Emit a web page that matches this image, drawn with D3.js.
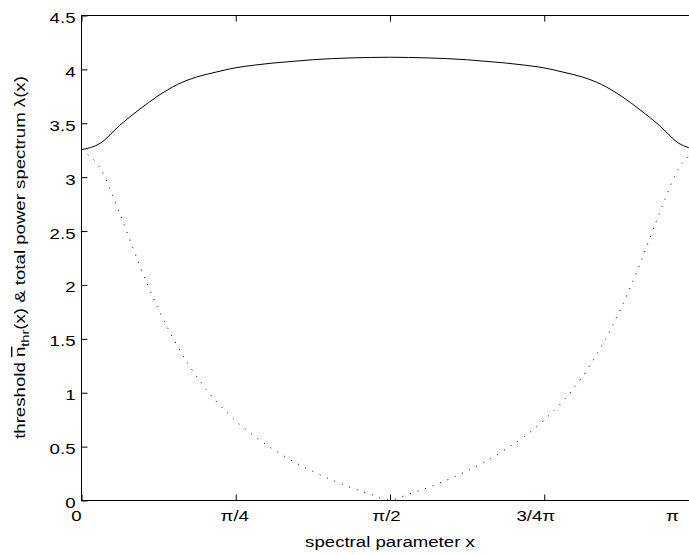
<!DOCTYPE html>
<html>
<head>
<meta charset="utf-8">
<script src="https://cdn.jsdelivr.net/npm/d3@7"></script>
<style>
  html, body { margin: 0; padding: 0; background: #fff; }
  svg { display: block; }
  text { font-family: "Liberation Sans", Arial, Helvetica, sans-serif; fill: #000; }
</style>
</head>
<body>
<svg id="chart" width="689" height="555"></svg>
<script>
// ---- data (x in multiples of pi/32, 0..pi) ----
const xSteps = d3.range(0, 33);            // k = 0..32, x = k*pi/32
const powerSpectrum = [
  3.25, 3.31, 3.475, 3.62, 3.75, 3.855, 3.925, 3.97, 4.01, 4.035, 4.055, 4.07, 4.085, 4.095, 4.102, 4.106,
  4.108,
  4.106, 4.102, 4.095, 4.085, 4.07, 4.055, 4.035, 4.01, 3.97, 3.925, 3.855, 3.75, 3.62, 3.475, 3.31, 3.25
];
const threshold = [
  3.247, 3.076, 2.661, 2.196, 1.776, 1.429, 1.144, 0.918, 0.739, 0.590, 0.468, 0.359, 0.267, 0.187, 0.115, 0.054,
  0.0,
  0.054, 0.115, 0.187, 0.267, 0.359, 0.468, 0.590, 0.739, 0.918, 1.144, 1.429, 1.776, 2.196, 2.661, 3.076, 3.247
];
const xTickValues = [0, Math.PI / 4, Math.PI / 2, 3 * Math.PI / 4, Math.PI];
const xTickLabels = ["0", "\u03C0/4", "\u03C0/2", "3/4\u03C0", "\u03C0"];
const yTickValues = [0, 0.5, 1, 1.5, 2, 2.5, 3, 3.5, 4, 4.5];
const yTickLabels = ["0", "0.5", "1", "1.5", "2", "2.5", "3", "3.5", "4", "4.5"];

// ---- layout ----
const svg = d3.select("#chart");
const mLeft = 81, mTop = 15, mRight = 698, mBottom = 500;
const x = d3.scaleLinear().domain([0, Math.PI]).range([mLeft, mRight]);
const y = d3.scaleLinear().domain([0, 4.5]).range([mBottom, mTop]);
const fontSize = 14;
const stretch = 1.33;      // text in the original is widened along its baseline
const tickLen = 6;
// horizontal shifts of x tick labels as rendered in the original
const xLabelShift = [-5.5, -1.5, -4, -9, -26.5];

function widen(sel) {
  sel.each(function () {
    const w = this.getComputedTextLength();
    d3.select(this).attr("textLength", w * stretch).attr("lengthAdjust", "spacingAndGlyphs");
  });
}

const xs = xSteps.map(k => k * Math.PI / 32);

// box
svg.append("rect")
  .attr("x", mLeft + 0.5).attr("y", mTop + 0.5)
  .attr("width", mRight - mLeft).attr("height", mBottom - mTop)
  .attr("fill", "none").attr("stroke", "#000").attr("stroke-width", 1);

// curves
const lineGen = d3.line().curve(d3.curveMonotoneX).x(d => x(d[0])).y(d => y(d[1]));
svg.append("path")
  .datum(xs.map((v, i) => [v, powerSpectrum[i]]))
  .attr("d", lineGen)
  .attr("fill", "none").attr("stroke", "#000").attr("stroke-width", 1);

svg.append("path")
  .datum(xs.map((v, i) => [v, threshold[i]]))
  .attr("d", lineGen)
  .attr("fill", "none").attr("stroke", "#000").attr("stroke-width", 1)
  .attr("stroke-dasharray", "1,7");

// x axis (bottom, ticks inward)
const xAxis = d3.axisBottom(x).tickValues(xTickValues)
  .tickFormat((d, i) => xTickLabels[i]).tickSizeInner(-tickLen).tickSizeOuter(0).tickPadding(11);
const gx = svg.append("g").attr("transform", `translate(0.5,${mBottom + 0.5})`).call(xAxis);
gx.select(".domain").remove();
gx.selectAll("text").attr("font-size", fontSize).attr("font-family", null)
  .attr("dx", (d, i) => xLabelShift[i]).call(widen);
gx.selectAll("line").attr("stroke", "#000");

// top ticks
const gxt = svg.append("g").attr("transform", `translate(0.5,${mTop + 0.5})`)
  .call(d3.axisTop(x).tickValues(xTickValues).tickFormat("").tickSizeInner(-tickLen).tickSizeOuter(0));
gxt.select(".domain").remove();

// y axis
const yAxis = d3.axisLeft(y).tickValues(yTickValues)
  .tickFormat((d, i) => yTickLabels[i]).tickSizeInner(-tickLen).tickSizeOuter(0).tickPadding(6);
const gy = svg.append("g").attr("transform", `translate(${mLeft + 0.5},0.5)`).call(yAxis);
gy.select(".domain").remove();
gy.selectAll("text").attr("font-size", fontSize).attr("font-family", null)
  .attr("dy", "0.5em").call(widen);

// right ticks
const gyr = svg.append("g").attr("transform", `translate(${mRight + 0.5},0.5)`)
  .call(d3.axisRight(y).tickValues(yTickValues).tickFormat("").tickSizeInner(-tickLen).tickSizeOuter(0));
gyr.select(".domain").remove();

// x label
svg.append("text")
  .attr("x", (mLeft + mRight) / 2 + 0.5).attr("y", 547)
  .attr("text-anchor", "middle").attr("font-size", fontSize)
  .text("spectral parameter x").call(widen);

// y label
const yl = svg.append("text")
  .attr("transform", `translate(25,${(mTop + mBottom) / 2}) rotate(-90)`)
  .attr("text-anchor", "middle").attr("font-size", fontSize);
yl.append("tspan").text("threshold ");
yl.append("tspan").style("text-decoration", "overline").text("n");
yl.append("tspan").attr("dy", 4).attr("font-size", 11).text("thr");
yl.append("tspan").attr("dy", -4).text("(x) & total power spectrum \u03BB(x)");
yl.call(widen);
</script>
</body>
</html>
